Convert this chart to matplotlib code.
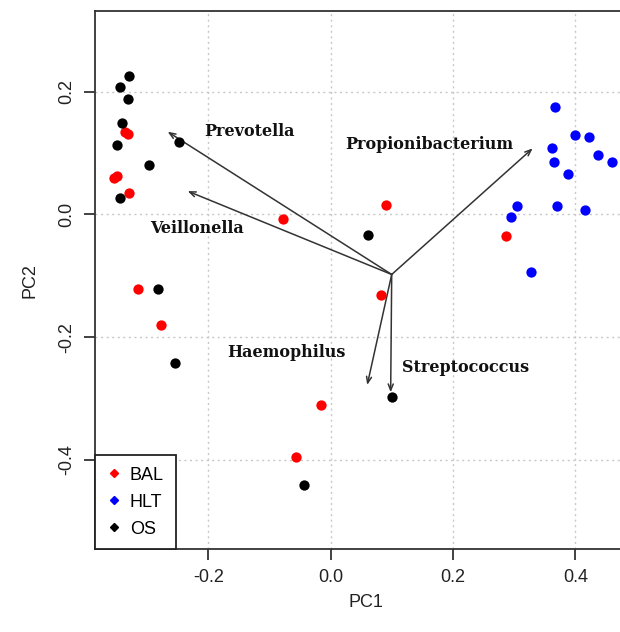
import matplotlib.pyplot as plt
from matplotlib.lines import Line2D

# PCA scores
bal_x = [-0.3366, -0.3307, -0.354, -0.3497, -0.329, -0.0784, -0.3144, -0.2778,
         -0.0158, -0.0572, 0.0904, 0.286, 0.0817]
bal_y = [0.135, 0.131, 0.0587, 0.0625, 0.0343, -0.0077, -0.1214, -0.1795,
         -0.31, -0.395, 0.0152, -0.0349, -0.1317]

hlt_x = [0.367, 0.3997, 0.4226, 0.362, 0.436, 0.4597, 0.3644, 0.3873,
         0.3044, 0.3693, 0.4155, 0.2951, 0.3268]
hlt_y = [0.1755, 0.129, 0.1256, 0.1077, 0.0962, 0.0858, 0.0858, 0.0662,
         0.0131, 0.0131, 0.0065, -0.0049, -0.0936]

os_x = [-0.330, -0.345, -0.331, -0.3405, -0.3497, -0.297, -0.248, -0.345,
        -0.2817, -0.254, -0.0431, 0.061, 0.101]
os_y = [0.2256, 0.208, 0.1876, 0.1494, 0.113, 0.080, 0.1175, 0.0266,
        -0.1214, -0.2415, -0.441, -0.0338, -0.2975]

# loadings (arrow tips) and where their names sit
origin = (0.0997, -0.0979)
taxa = ["Prevotella", "Veillonella", "Propionibacterium", "Haemophilus", "Streptococcus"]
tip_x = [-0.2664, -0.2337, 0.330, 0.0597, 0.098]
tip_y = [0.1348, 0.038, 0.1077, -0.278, -0.29]
lab_x = [-0.132, -0.218, 0.161, -0.073, 0.221]
lab_y = [0.136, -0.0228, 0.114, -0.225, -0.249]

fig = plt.figure(figsize=(6.2, 6.32), dpi=100)
xmin, xmax = -0.3856, 0.50
ymin, ymax = -0.546, 0.3317
ax = fig.add_axes([94.7 / 620, 82.7 / 632, (xmax - xmin) * 612 / 620, 538.3 / 632])
ax.set_xlim(xmin, xmax)
ax.set_ylim(ymin, ymax)

ax.set_xticks([-0.2, 0.0, 0.2, 0.4])
ax.set_yticks([-0.4, -0.2, 0.0, 0.2])
ax.set_xticklabels(["-0.2", "0.0", "0.2", "0.4"])
ax.set_yticklabels(["-0.4", "-0.2", "0.0", "0.2"], rotation=90, va="center")
ax.grid(True, color="#c8c8c8", linestyle=(0, (1.5, 2.5)), linewidth=1)
ax.set_axisbelow(True)

for sp in ax.spines.values():
    sp.set_color("#333333")
    sp.set_linewidth(1.3)
# the plot box runs past the right edge of the picture
ax.spines["right"].set_visible(False)
ax.tick_params(direction="out", length=8, width=1.3, color="#333333",
               labelsize=13, labelcolor="#222222", pad=6)
for lbl in ax.get_xticklabels() + ax.get_yticklabels():
    lbl.set_family("Liberation Sans")

ax.set_xlabel("PC1", fontsize=13, family="Liberation Sans", color="#222222", labelpad=6)
ax.set_ylabel("PC2", fontsize=13, family="Liberation Sans", color="#222222", labelpad=14)

for name, tx, ty, lx, ly in zip(taxa, tip_x, tip_y, lab_x, lab_y):
    ax.annotate("", xy=(tx, ty), xytext=origin,
                arrowprops=dict(arrowstyle="->,head_length=0.45,head_width=0.18",
                                color="#333333", lw=1.1, shrinkA=0, shrinkB=0))
    ax.text(lx, ly, name, ha="center", va="center", fontsize=11.5,
            family="DejaVu Serif", fontweight="bold", color="#111111")

ax.scatter(bal_x, bal_y, s=55, color="red", zorder=3, linewidths=0)
ax.scatter(hlt_x, hlt_y, s=55, color="blue", zorder=3, linewidths=0)
ax.scatter(os_x, os_y, s=55, color="black", zorder=3, linewidths=0)

handles = [Line2D([], [], marker="D", linestyle="none", color=c, markersize=4)
           for c in ["red", "blue", "black"]]
leg = ax.legend(handles, ["BAL", "HLT", "OS"], loc="lower left", borderaxespad=0,
                fancybox=False, framealpha=1, edgecolor="#222222",
                prop={"family": "Liberation Sans", "size": 13},
                handletextpad=0.5, handlelength=0.8, labelspacing=0.55,
                borderpad=0.65)
leg.get_frame().set_linewidth(1.3)

fig.savefig("out.png", dpi=100)
